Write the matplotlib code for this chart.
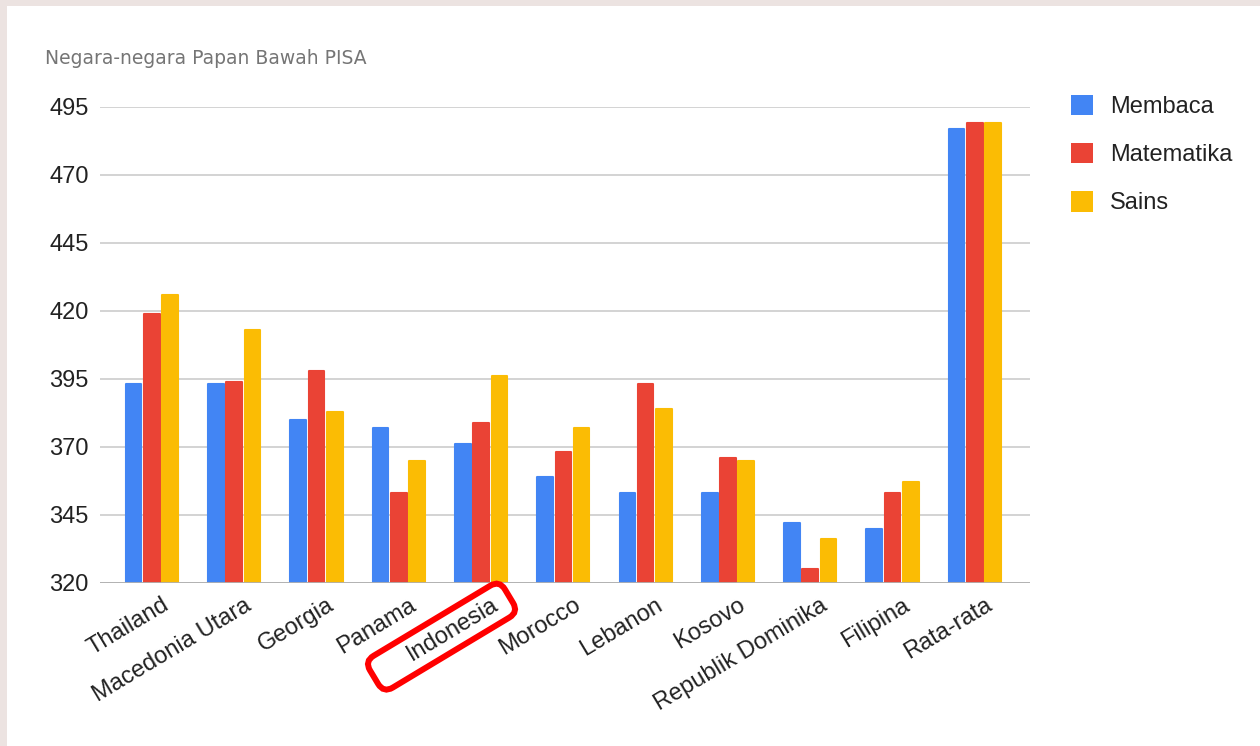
import matplotlib.pyplot as plt
from matplotlib.patches import Patch, Rectangle
import numpy as np

# data (PISA 2018, lowest-ranked countries)
countries = ["Thailand", "Macedonia Utara", "Georgia", "Panama", "Indonesia",
             "Morocco", "Lebanon", "Kosovo", "Republik Dominika", "Filipina", "Rata-rata"]
membaca = [393, 393, 380, 377, 371, 359, 353, 353, 342, 340, 487]
matematika = [419, 394, 398, 353, 379, 368, 393, 366, 325, 353, 489]
sains = [426, 413, 383, 365, 396, 377, 384, 365, 336, 357, 489]
series = ["Membaca", "Matematika", "Sains"]
colors = ["#4285F4", "#EA4335", "#FBBC04"]
yticks = [320, 345, 370, 395, 420, 445, 470, 495]

plt.rcParams['font.family'] = ['Liberation Sans', 'DejaVu Sans']

fig = plt.figure(figsize=(12.6, 7.46), dpi=100)
fig.patch.set_facecolor("#ece3e1")
# white card
card = Rectangle((7 / 1260, 0), 1, 1 - 6 / 746, transform=fig.transFigure,
                 facecolor="white", edgecolor="none", zorder=-5)
fig.add_artist(card)

ax = fig.add_axes([100 / 1260, 1 - 583 / 746, 930 / 1260, 476 / 746])
ax.set_zorder(2)
ax.set_facecolor("white")

x = np.arange(len(countries))
w = 0.19
step = 0.222
for i, vals in enumerate([membaca, matematika, sains]):
    ax.bar(x + (i - 1) * step, np.array(vals) - 320, bottom=320, width=w,
           color=colors[i], edgecolor=colors[i], linewidth=1.5, joinstyle="round",
           zorder=3)

ax.set_ylim(320, 495)
ax.set_xlim(-0.63, 10.67)
ax.set_yticks(yticks)
ax.yaxis.grid(True, color="#cccccc", linewidth=1.2, zorder=0)
for s in ax.spines.values():
    s.set_visible(False)
ax.axhline(320, color="#b0b0b0", linewidth=1.3, zorder=4)
ax.tick_params(axis="both", length=0, labelsize=17, colors="#222222")
ax.tick_params(axis="y", pad=8)
ax.tick_params(axis="x", pad=8)

ax.set_xticks(x + 0.12)
ax.set_xticklabels(countries, rotation=31, ha="right", rotation_mode="anchor")

# red rounded box around the Indonesia label
fig.canvas.draw()
lbl = ax.get_xticklabels()[4]
bb = lbl.get_window_extent()
ang = np.radians(31)
cx = (bb.x0 + bb.x1) / 2 - 13 * np.cos(ang)
cy = (bb.y0 + bb.y1) / 2 - 13 * np.sin(ang)
fig.text(cx / fig.bbox.width, cy / fig.bbox.height, "   Indonesia   ", fontsize=17,
         rotation=31, rotation_mode="anchor", ha="center", va="center",
         color="none", zorder=10,
         bbox=dict(boxstyle="round,pad=0.32,rounding_size=0.45", facecolor="none",
                   edgecolor="#ff0000", linewidth=4.3))

fig.text(45 / 1260, 1 - 58 / 746, "Negara-negara Papan Bawah PISA", fontsize=13.5,
         color="#757575", va="center", ha="left", family="DejaVu Sans")

handles = [Patch(facecolor=c, edgecolor="none") for c in colors]
fig.legend(handles, series, loc="upper left", bbox_to_anchor=(1071 / 1260, 1 - 95 / 746),
           frameon=False, fontsize=17, handlelength=0.95, handleheight=0.95,
           handletextpad=0.7, labelspacing=1.05, borderpad=0, borderaxespad=0,
           labelcolor="#222222")

fig.savefig("out.png", dpi=100, facecolor=fig.get_facecolor())
